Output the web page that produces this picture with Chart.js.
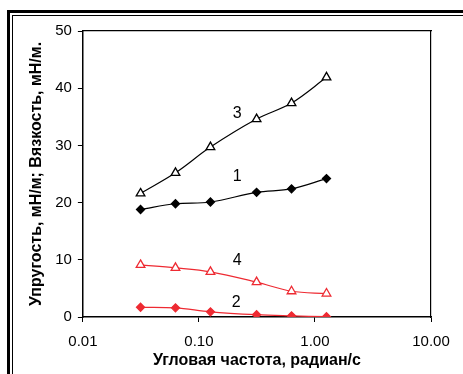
<!DOCTYPE html>
<html>
<head>
<meta charset="utf-8">
<script src="https://cdn.jsdelivr.net/npm/chart.js@4.4.1/dist/chart.umd.min.js"></script>
<style>
  html, body { margin: 0; padding: 0; background: #fff; }
  #wrap { position: relative; width: 463px; height: 374px; }
</style>
</head>
<body>
<div id="wrap"><canvas id="render"></canvas></div>
<script>
// angular frequency, rad/s
const freq = [0.0314, 0.0628, 0.1257, 0.314, 0.628, 1.257];
// curves 1..4
const curve1 = [18.8, 19.8, 20.1, 21.8, 22.4, 24.2];
const curve2 = [1.7, 1.6, 0.9, 0.4, 0.2, 0.05];
const curve3 = [21.6, 25.2, 29.7, 34.6, 37.4, 41.9];
const curve4 = [9.1, 8.6, 7.9, 6.1, 4.5, 4.1];
const curveNames = ['1', '2', '3', '4'];
const yTicks = [0, 10, 20, 30, 40, 50];
const xTicks = [0.01, 0.1, 1, 10];
const xTitle = 'Угловая частота, радиан/с';

const RED = '#ee2a32';
const FONT = '"Liberation Sans", Arial, sans-serif';

function pts(ys) {
    return freq.map((x, i) => ({ x: x, y: ys[i] }));
}

function series(label, ys, color, shape, fill) {
    return {
        label: label,
        data: pts(ys),
        borderColor: color,
        borderWidth: 1.2,
        pointStyle: shape,
        pointRadius: shape === 'triangle' ? 5 : 4,
        pointBorderColor: color,
        pointBackgroundColor: fill ? color : '#fff',
        pointBorderWidth: 1.3,
        tension: 0.35,
        fill: false
    };
}

// frame lines, x title and curve numbers
const extras = {
    id: 'extras',
    beforeDraw(chart) {
        const c = chart.ctx;
        c.save();
        c.fillStyle = '#000';
        c.fillRect(7, 10, 456, 3);
        c.fillRect(7, 10, 3, 364);
        c.fillRect(12, 15, 451, 1);
        c.fillRect(12, 15, 1, 359);
        c.restore();
    },
    afterDatasetsDraw(chart) {
        const c = chart.ctx;
        const xs = chart.scales.x, ys = chart.scales.y;
        const area = chart.chartArea;
        c.save();
        c.fillStyle = '#000';
        c.textAlign = 'center';
        c.textBaseline = 'middle';
        c.font = 'bold 16px ' + FONT;
        c.fillText(xTitle, (area.left + area.right) / 2, 361);
        c.font = '16px ' + FONT;
        // label positions in data units next to each curve
        const spots = [[0.214, 24.6], [0.21, 2.45], [0.214, 35.5], [0.214, 9.9]];
        curveNames.forEach((n, i) => {
            c.fillText(n, xs.getPixelForValue(spots[i][0]), ys.getPixelForValue(spots[i][1]));
        });
        c.restore();
    }
};

const ctx = document.getElementById('render');
new Chart(ctx, {
    type: 'line',
    data: {
        datasets: [
            series('1', curve1, '#000', 'rectRot', true),
            series('2', curve2, RED, 'rectRot', true),
            series('3', curve3, '#000', 'triangle', false),
            series('4', curve4, RED, 'triangle', false)
        ]
    },
    options: {
        responsive: true,
        maintainAspectRatio: false,
        animation: false,
        layout: { padding: { left: 27, top: 23, right: 24, bottom: 12 } },
        plugins: {
            legend: { display: false },
            tooltip: { enabled: false }
        },
        scales: {
            x: {
                type: 'logarithmic',
                min: 0.01,
                max: 10,
                afterBuildTicks(axis) {
                    axis.ticks = xTicks.map(v => ({ value: v }));
                },
                ticks: {
                    color: '#000',
                    font: { family: FONT, size: 15 },
                    maxRotation: 0,
                    padding: 11,
                    callback: v => Number(v).toFixed(2)
                },
                grid: {
                    display: true,
                    drawOnChartArea: false,
                    drawTicks: true,
                    tickLength: 5,
                    color: '#000'
                },
                border: { display: true, color: '#000', width: 1.5 }
            },
            y: {
                min: 0,
                max: 50,
                afterBuildTicks(axis) {
                    axis.ticks = yTicks.map(v => ({ value: v }));
                },
                ticks: {
                    color: '#000',
                    font: { family: FONT, size: 15 },
                    padding: 6
                },
                grid: {
                    display: true,
                    drawOnChartArea: false,
                    drawTicks: true,
                    tickLength: 5,
                    color: '#000'
                },
                border: { display: true, color: '#000', width: 1.5 },
                title: {
                    display: true,
                    text: 'Упругость, мН/м; Вязкость, мН/м.',
                    color: '#000',
                    font: { family: FONT, size: 16, weight: 'bold' },
                    padding: { top: 0, bottom: 3 }
                }
            },
            x2: {
                type: 'logarithmic',
                position: 'top',
                min: 0.01,
                max: 10,
                ticks: { display: false },
                grid: { display: false },
                border: { display: true, color: '#000', width: 1.2 }
            },
            y2: {
                position: 'right',
                min: 0,
                max: 50,
                ticks: { display: false },
                grid: { display: false },
                border: { display: true, color: '#000', width: 1.2 }
            }
        }
    },
    plugins: [extras]
});
</script>
</body>
</html>
